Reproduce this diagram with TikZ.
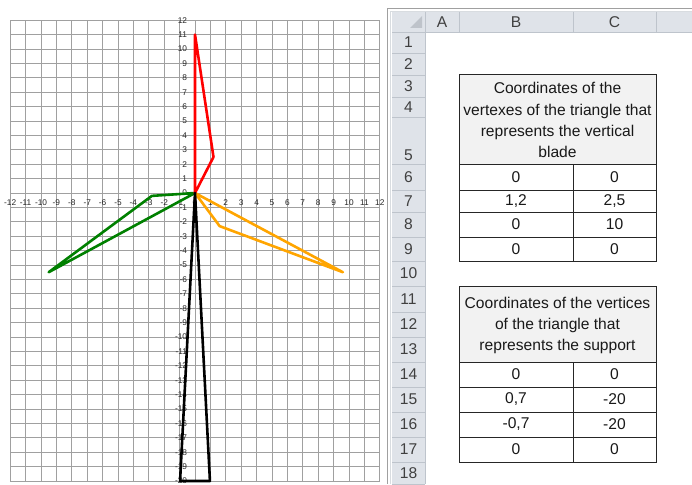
\documentclass[tikz,border=0pt]{standalone}
\usepackage{fontspec}
\setmainfont{Liberation Sans}
\definecolor{gridc}{RGB}{160,160,160}
\definecolor{hdrfill}{RGB}{223,227,233}
\definecolor{hdrline}{RGB}{190,196,204}
\definecolor{framec}{RGB}{160,160,160}
\definecolor{tabhead}{RGB}{242,242,242}
\definecolor{tric}{RGB}{190,195,202}
\definecolor{greenc}{RGB}{0,128,0}
\definecolor{orangec}{RGB}{255,165,0}
\definecolor{redc}{RGB}{255,0,0}
\tikzset{
  gridline/.style={draw=gridc, line width=0.8pt},
  tick/.style={inner sep=0pt, font=\fontsize{8.3}{9}\selectfont, text=black!85},
  blade/.style={line width=2.6pt, line join=round, line cap=round},
  hdrsep/.style={draw=hdrline, line width=0.8pt},
  cell/.style={inner sep=0pt, font=\fontsize{15.6}{21}\selectfont, text=black!90},
  hdrtext/.style={inner sep=0pt, font=\fontsize{15.6}{21}\selectfont, text=black!75},
  tabline/.style={draw=black!85, line width=1pt},
}
\begin{document}
\begin{tikzpicture}[x=1pt, y=-1pt]
\useasboundingbox (0,0) rectangle (692,484);
\fill[white] (0,0) rectangle (692,484);
% ---------------- chart ----------------
\begin{scope}[shift={(195,193)}, x=15.4pt, y=14.4pt]
  \foreach \i in {-12,...,12} \draw[gridline] (\i,-20) -- (\i,12);
  \foreach \j in {-20,...,12} \draw[gridline] (-12,\j) -- (12,\j);
  \foreach \i in {-12,...,12} \node[tick] (xl\i) at (\i,-0.69) {\i};
  \foreach \j in {-20,...,12} \node[tick, anchor=east] (yl\j) at (-0.5,\j) {\j};
  \draw[blade, greenc] (0,0) -- (-2.8,-0.2) -- (-9.5,-5.5) -- cycle;
  \draw[blade, orangec] (0,0) -- (1.6,-2.3) -- (9.6,-5.5) -- cycle;
  \draw[blade, redc] (0,0) -- (1.2,2.5) -- (0,11) -- cycle;
  \draw[blade, black, line cap=butt] (0,0) -- (0.97,-20) -- (-0.97,-20) -- cycle;
\end{scope}
% ---------------- spreadsheet ----------------
\begin{scope}
\clip (384,0) rectangle (692,484);
\draw[draw=framec, line width=1.3pt] (387.5,484) -- (387.5,8.5) -- (692,8.5);
\draw[draw=hdrline!60, line width=0.8pt] (390,484) -- (390,11) -- (692,11);
\fill[hdrfill] (392,12) rectangle (692,32);
\fill[hdrfill] (392,32) rectangle (425,484);
\fill[tric] (410,28) -- (422,28) -- (422,16) -- cycle;
\foreach \x in {425,459,573,656} \draw[hdrsep] (\x,12) -- (\x,32);
\draw[hdrsep] (425,32) -- (425,484);
\draw[hdrsep] (392,32) -- (692,32);
\foreach \y in {53,75,97,117,164,190,212,237,261,286,312,337,362,387,412,437,462,484}
  \draw[hdrsep] (392,\y) -- (425,\y);
\node[hdrtext] (colA) at (442,22.5) {A};
\node[hdrtext] (colB) at (516,22.5) {B};
\node[hdrtext] (colC) at (614.5,22.5) {C};
\node[hdrtext] (colD) at (697,22.5) {D};
\node[hdrtext] (r1) at (408.5,42.5) {1};
\node[hdrtext] (r2) at (408.5,64) {2};
\node[hdrtext] (r3) at (408.5,86) {3};
\node[hdrtext] (r4) at (408.5,107) {4};
\node[hdrtext, anchor=base] (r5) at (408.5,160) {5};
\node[hdrtext] (r6) at (408.5,177) {6};
\node[hdrtext] (r7) at (408.5,201) {7};
\node[hdrtext] (r8) at (408.5,224.5) {8};
\node[hdrtext] (r9) at (408.5,249) {9};
\node[hdrtext] (r10) at (408.5,273.5) {10};
\node[hdrtext] (r11) at (408.5,299) {11};
\node[hdrtext] (r12) at (408.5,324.5) {12};
\node[hdrtext] (r13) at (408.5,349.5) {13};
\node[hdrtext] (r14) at (408.5,374.5) {14};
\node[hdrtext] (r15) at (408.5,399.5) {15};
\node[hdrtext] (r16) at (408.5,424.5) {16};
\node[hdrtext] (r17) at (408.5,449.5) {17};
\node[hdrtext] (r18) at (408.5,473) {18};
\end{scope}
% table 1
\fill[tabhead] (459,75) rectangle (656,164);
\draw[tabline] (459,75) rectangle (656,261);
\foreach \y in {164,190,212,237} \draw[tabline] (459,\y) -- (656,\y);
\draw[tabline] (573,164) -- (573,261);
\node[cell, anchor=base] (t1a) at (557.5,94) {Coordinates of the};
\node[cell, anchor=base] (t1b) at (557.5,115.5) {vertexes of the triangle that};
\node[cell, anchor=base] (t1c) at (557.5,136.5) {represents the vertical};
\node[cell, anchor=base] (t1d) at (557.5,157.5) {blade};
\node[cell] (b6) at (516,177) {0};
\node[cell] (c6) at (614.5,177) {0};
\node[cell] (b7) at (516,201) {1,2};
\node[cell] (c7) at (614.5,201) {2,5};
\node[cell] (b8) at (516,224.5) {0};
\node[cell] (c8) at (614.5,224.5) {10};
\node[cell] (b9) at (516,249) {0};
\node[cell] (c9) at (614.5,249) {0};
% table 2
\fill[tabhead] (459,286) rectangle (656,362);
\draw[tabline] (459,286) rectangle (656,462);
\foreach \y in {362,387,412,437} \draw[tabline] (459,\y) -- (656,\y);
\draw[tabline] (573,362) -- (573,462);
\node[cell, anchor=base] (t2a) at (557.5,308) {Coordinates of the vertices};
\node[cell, anchor=base] (t2b) at (557.5,329) {of the triangle that};
\node[cell, anchor=base] (t2c) at (557.5,350) {represents the support};
\node[cell] (b14) at (516,374.5) {0};
\node[cell] (c14) at (614.5,374.5) {0};
\node[cell] (b15) at (516,399.5) {0,7};
\node[cell] (c15) at (614.5,399.5) {-20};
\node[cell] (b16) at (516,424.5) {-0,7};
\node[cell] (c16) at (614.5,424.5) {-20};
\node[cell] (b17) at (516,449.5) {0};
\node[cell] (c17) at (614.5,449.5) {0};
\end{tikzpicture}
\end{document}
